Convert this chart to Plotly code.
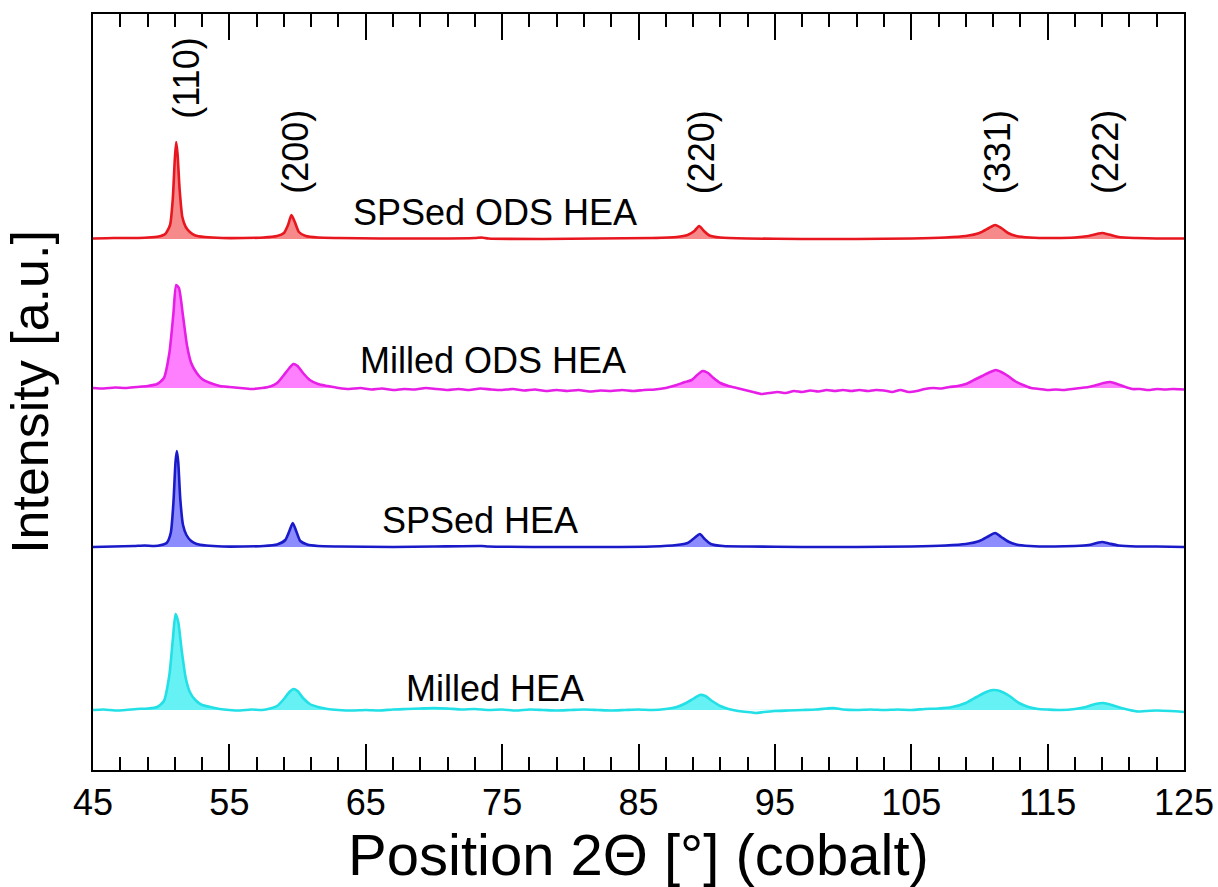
import plotly.graph_objects as go

# ---------------- data ----------------
# intensities are heights above each pattern's own baseline (a.u.)
red_x = [45.0, 46.5, 48.0, 49.0, 49.8, 50.3, 50.65, 50.85, 51.0, 51.1, 51.2, 51.35, 51.55, 51.8, 52.1, 52.5,
         53.2, 54.5, 56.0, 57.5, 58.5, 59.0, 59.3, 59.55, 59.8, 60.1, 60.6, 61.5, 63.0, 66.0, 70.0, 73.0,
         73.5, 74.0, 78.0, 82.0, 86.0, 87.8, 88.6, 89.1, 89.45, 89.8, 90.2, 91.0, 93.0, 97.0, 101.0, 105.0,
         107.5, 109.0, 110.0, 110.7, 111.15, 111.6, 112.1, 112.7, 113.7, 115.5, 117.0, 118.0, 118.6, 119.0,
         119.5, 120.2, 121.5, 123.0, 125.0]
red_y = [0.5, 1, 1, 1.5, 2.5, 5, 14, 40, 80, 97, 85, 50, 22, 12, 7, 3.5,
         2, 1, 1, 1.5, 3, 6, 14, 24, 17, 7, 3, 1.5, 1, 0.5, 0.5, 1,
         1.5, 0.5, 0, 0.5, 1, 2, 4, 8, 13, 8, 3.5, 1.5, 0.5, 0, 0, 0.5,
         1.5, 3, 6, 11, 14, 11, 6, 3, 1.5, 1, 1.5, 3, 5, 6,
         4.5, 2, 1, 0.5, 0.5]

magenta_x = [45.0, 45.8, 46.6, 47.4, 48.2, 49.0, 49.7, 50.2, 50.6, 50.9, 51.1, 51.3, 51.6, 51.9, 52.2, 52.6,
             53.0, 53.6, 54.3, 55.0, 55.8, 56.6, 57.4, 58.0, 58.5, 59.0, 59.4, 59.7, 60.0, 60.4, 60.9, 61.5,
             62.2, 63.0, 63.8, 64.6, 65.4, 66.2, 67.0, 67.8, 68.6, 69.4, 70.2, 71.0, 71.8, 72.6, 73.4, 74.2,
             75.0, 75.8, 76.6, 77.4, 78.2, 79.0, 79.8, 80.6, 81.4, 82.2, 83.0, 83.8, 84.6, 85.4, 86.2, 87.0,
             87.8, 88.4, 88.9, 89.3, 89.7, 90.1, 90.5, 91.0, 91.6, 92.2, 92.8, 93.4, 94.0, 94.6, 95.2, 95.8,
             96.4, 97.0, 97.6, 98.2, 98.8, 99.4, 100.0, 100.6, 101.2, 101.8, 102.4, 103.0, 103.6, 104.2, 104.8,
             105.4, 106.0, 106.6, 107.2, 107.8, 108.4, 109.0, 109.6, 110.2, 110.8, 111.2, 111.6, 112.1, 112.6,
             113.2, 113.8, 114.4, 115.0, 115.6, 116.2, 116.8, 117.4, 118.0, 118.6, 119.1, 119.6, 120.1, 120.6,
             121.2, 121.8, 122.4, 123.0, 123.6, 124.2, 125.0]
magenta_y = [0, -0.5, 0.5, 0, 1, 2, 4, 10, 35, 75, 103, 100, 72, 42, 25, 15,
             9, 5, 2, 1, 0, -1, 0, 1.5, 5, 13, 20, 24, 22, 15, 8, 4,
             2, 0, -1, 0, -1.5, -0.5, -2, -1, -1.5, 0, -1, -2, -1, -2, -0.5, -1.5,
             -2, -1, -2.5, -1.5, -3, -2, -3, -2, -3.5, -2.5, -3, -2, -3, -2, -1.5, 0,
             3, 6, 8, 13, 17, 15, 10, 5, 2, 0, -2, -4, -6, -5, -4, -5,
             -3, -4, -2.5, -3.5, -2, -3, -2, -3, -2, -3, -2, -2.5, -4, -2, -4,
             -3, -1, 0, -0.5, 1, 2, 4, 8, 12, 16, 18, 16, 12, 7,
             3, 0, -1, -2, -1.5, -2, -1, 0, 1, 3, 5, 6, 4, 1.5,
             -1, -1, -2, -1, -1.5, -1, -1.5]

blue_x = [45.0, 46.5, 48.0, 48.8, 49.5, 50.0, 50.4, 50.7, 50.9, 51.05, 51.15, 51.25, 51.4, 51.6, 51.85, 52.2,
          52.6, 53.3, 54.5, 56.0, 57.5, 58.5, 59.1, 59.4, 59.65, 59.9, 60.2, 60.7, 61.5, 63.0, 67.0, 70.0,
          73.5, 74.0, 78.0, 82.0, 86.0, 87.8, 88.6, 89.1, 89.5, 89.85, 90.3, 91.2, 93.0, 97.0, 101.0, 105.0,
          107.5, 109.0, 110.0, 110.7, 111.15, 111.6, 112.1, 112.7, 113.7, 115.5, 117.0, 118.0, 118.6, 119.0,
          119.5, 120.2, 121.5, 123.0, 125.0]
blue_y = [0, 0.5, 1, 1.5, 1, 2, 4, 14, 45, 85, 96, 85, 48, 22, 12, 6,
          3, 1.5, 0.5, 0.5, 1, 2.5, 7, 16, 24, 16, 6, 2.5, 1, 0.5, 0, 0.5,
          1, 0.5, 0, 0, 0.5, 2, 4, 9, 13, 8, 3, 1, 0.5, 0, 0, 0.5,
          1.5, 3, 6, 11, 14, 10, 5.5, 2.5, 1, 0.5, 1, 2, 4, 5,
          3.5, 1.5, 0.5, 0.5, 0]

cyan_x = [45.0, 45.8, 46.6, 47.4, 48.2, 49.0, 49.7, 50.2, 50.6, 50.85, 51.05, 51.25, 51.5, 51.8, 52.1, 52.5,
          53.0, 53.6, 54.3, 55.0, 55.8, 56.6, 57.4, 58.0, 58.5, 59.0, 59.4, 59.7, 60.0, 60.4, 60.9, 61.5,
          62.2, 63.0, 64.0, 65.0, 66.0, 67.0, 68.0, 69.0, 70.0, 71.0, 72.0, 73.0, 74.0, 75.0, 76.0, 77.0,
          78.0, 79.0, 80.0, 81.0, 82.0, 83.0, 84.0, 85.0, 86.0, 87.0, 87.8, 88.5, 89.0, 89.5, 89.9, 90.4,
          91.0, 91.6, 92.3, 93.0, 93.6, 94.2, 95.0, 96.0, 97.0, 98.0, 98.8, 99.3, 100.0, 101.0, 102.0, 103.0,
          104.0, 105.0, 106.0, 107.0, 108.0, 109.0, 109.8, 110.5, 111.0, 111.5, 112.2, 112.9, 113.6, 114.3,
          115.0, 116.0, 117.0, 117.8, 118.5, 119.1, 119.7, 120.4, 121.0, 121.6, 122.2, 123.0, 124.0, 125.0]
cyan_y = [0, 0.5, -0.5, 0, 1, 1.5, 3, 9, 35, 70, 96, 88, 60, 32, 18, 10,
          5, 3, 1, 0, -0.5, 0.5, 0, 1.5, 4, 11, 18, 21, 19, 12, 6, 3,
          1, 0, -0.5, 0, -0.5, 0.5, 1, 1.5, 2, 1.5, 0.5, 1, 0, 0.5, -0.5, 0.5,
          0, -0.5, 0, 0.5, 0, -0.5, 0, 0.5, 0, 1, 3, 7, 11, 15, 14, 9,
          4, 1, -1, -2, -3, -2, -1, -0.5, 0, 0.5, 1.5, 2, 0.5, 0, 0.5, 0,
          0.5, 0, 1, 1.5, 3, 7, 13, 18, 20, 19, 14, 7, 3, 1,
          0.5, 0, 1, 3, 6, 7, 5, 2, 0, -1.5, -1, -0.5, -1, -2]

series_names = ["SPSed ODS HEA", "Milled ODS HEA", "SPSed HEA", "Milled HEA"]
series_offsets = [531, 382, 223, 60]          # vertical stacking offsets (a.u.)
series_label_x = [74.5, 74.3, 73.4, 74.5]
series_label_y = [558, 410, 250, 82]

peak_labels = ["(110)", "(200)", "(220)", "(331)", "(222)"]
peak_label_x = [51.8, 59.8, 89.6, 111.3, 119.2]
peak_label_y = [692, 618, 618, 618, 618]

x_ticks = [45, 55, 65, 75, 85, 95, 105, 115, 125]

# ---------------- styling ----------------
line_colors = ["#e8161e", "#e61ee6", "#1a1ac8", "#22e0e6"]
fill_colors = ["#f68a8a", "#ff80ff", "#8c8cff", "#66f2f4"]
FONT = "Liberation Sans, Arial, sans-serif"

data_x = [red_x, magenta_x, blue_x, cyan_x]
data_y = [red_y, magenta_y, blue_y, cyan_y]

fig = go.Figure()
for xs, ys, off, lc, fc, name in zip(data_x, data_y, series_offsets, line_colors, fill_colors, series_names):
    base = [off] * len(xs)
    fig.add_trace(go.Scatter(x=xs, y=base, mode="lines", line=dict(width=0, color=fc),
                             showlegend=False, hoverinfo="skip"))
    fig.add_trace(go.Scatter(x=xs, y=[off + max(v, 0) for v in ys], mode="lines",
                             line=dict(width=0, color=fc), fill="tonexty", fillcolor=fc,
                             showlegend=False, hoverinfo="skip"))
    fig.add_trace(go.Scatter(x=xs, y=[off + v for v in ys], mode="lines", name=name,
                             line=dict(width=2.6, color=lc, shape="spline", smoothing=0.6),
                             showlegend=False))

for name, lx, ly in zip(series_names, series_label_x, series_label_y):
    fig.add_annotation(x=lx, y=ly, text=name, showarrow=False,
                       font=dict(family=FONT, size=36, color="black"))

for t, lx, ly in zip(peak_labels, peak_label_x, peak_label_y):
    fig.add_annotation(x=lx, y=ly, text=t, showarrow=False, textangle=-90,
                       font=dict(family=FONT, size=36, color="black"))

fig.update_layout(
    width=1218, height=887,
    margin=dict(l=93, r=34, t=14, b=117),
    paper_bgcolor="white", plot_bgcolor="white",
    font=dict(family=FONT, color="black"),
    showlegend=False,
)
fig.update_xaxes(
    range=[45, 125], tickvals=x_ticks, ticktext=[str(v) for v in x_ticks],
    ticks="inside", ticklen=26, tickwidth=2, tickcolor="black",
    minor=dict(tick0=45, dtick=2, ticks="inside", ticklen=13, tickwidth=2, tickcolor="black"),
    showline=True, linewidth=2, linecolor="black", mirror="ticks",
    showgrid=False, zeroline=False,
    tickfont=dict(family=FONT, size=36, color="black"),
    title=dict(text="Position 2\u0398 [\u00b0] (cobalt)", font=dict(family=FONT, size=58, color="black"),
               standoff=12),
    automargin=False,
)
fig.update_yaxes(
    range=[0, 756], showticklabels=False, ticks="",
    showline=True, linewidth=2, linecolor="black", mirror=True,
    showgrid=False, zeroline=False,
    title=dict(text="Intensity [a.u.]", font=dict(family=FONT, size=52, color="black"), standoff=26),
    automargin=False,
)

fig.write_html("out.html")
